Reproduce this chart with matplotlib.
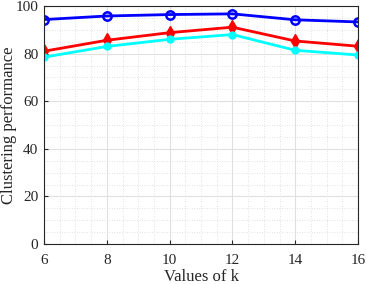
import numpy as np
import matplotlib
matplotlib.use("Agg")
import matplotlib.pyplot as plt
from matplotlib.ticker import MultipleLocator

k_values = [6, 8, 10, 12, 14, 16]
blue_vals = [94.3, 95.8, 96.4, 96.7, 94.2, 93.3]
red_vals = [81.0, 85.6, 88.8, 91.1, 85.3, 83.1]
cyan_vals = [78.5, 83.0, 86.0, 88.0, 81.4, 79.4]

plt.rcParams['font.family'] = ['Liberation Serif', 'DejaVu Serif']
plt.rcParams['font.size'] = 11

fig = plt.figure(figsize=(3.66, 2.84), dpi=100)
ax = fig.add_axes([44/366, 1 - 244/284, 314/366, 238/284])

ax.plot(k_values, blue_vals, color='#0000ff', lw=2, marker='o', ms=6,
        mfc='none', mec='#0000ff', mew=1.8)
ax.plot(k_values, red_vals, color='#ff0000', lw=2, marker='d', ms=7,
        mfc='#ff0000', mec='#ff0000')
ax.plot(k_values, cyan_vals, color='#00ffff', lw=2, marker='o', ms=5,
        mfc='#00ffff', mec='#00ffff')

ax.set_xlim(6, 16)
ax.set_ylim(0, 100)
ax.set_xticks(k_values)
ax.set_yticks([0, 20, 40, 60, 80, 100])
ax.xaxis.set_minor_locator(MultipleLocator(0.5))
ax.yaxis.set_minor_locator(MultipleLocator(5))
ax.grid(which='major', color='#e0e0e0', lw=0.8)
ax.grid(which='minor', color='#d8d8d8', lw=0.6, ls=(0, (1, 2)))
ax.set_axisbelow(True)
ax.tick_params(which='both', direction='in', top=False, right=False)
ax.tick_params(which='minor', length=0)
ax.tick_params(which='major', length=3, labelsize=11, colors='#262626')
ax.tick_params(axis='x', pad=7)
ax.tick_params(axis='y', pad=4)
for s in ax.spines.values():
    s.set_color('#262626')
    s.set_linewidth(0.8)

ax.set_xlabel('Values of k', fontsize=12, color='#262626')
ax.set_ylabel('Clustering performance', fontsize=12, color='#262626')
ax.yaxis.set_label_coords(-0.086, 0.5)
ax.xaxis.set_label_coords(0.5, -0.104)

fig.savefig('out.png', dpi=100)
